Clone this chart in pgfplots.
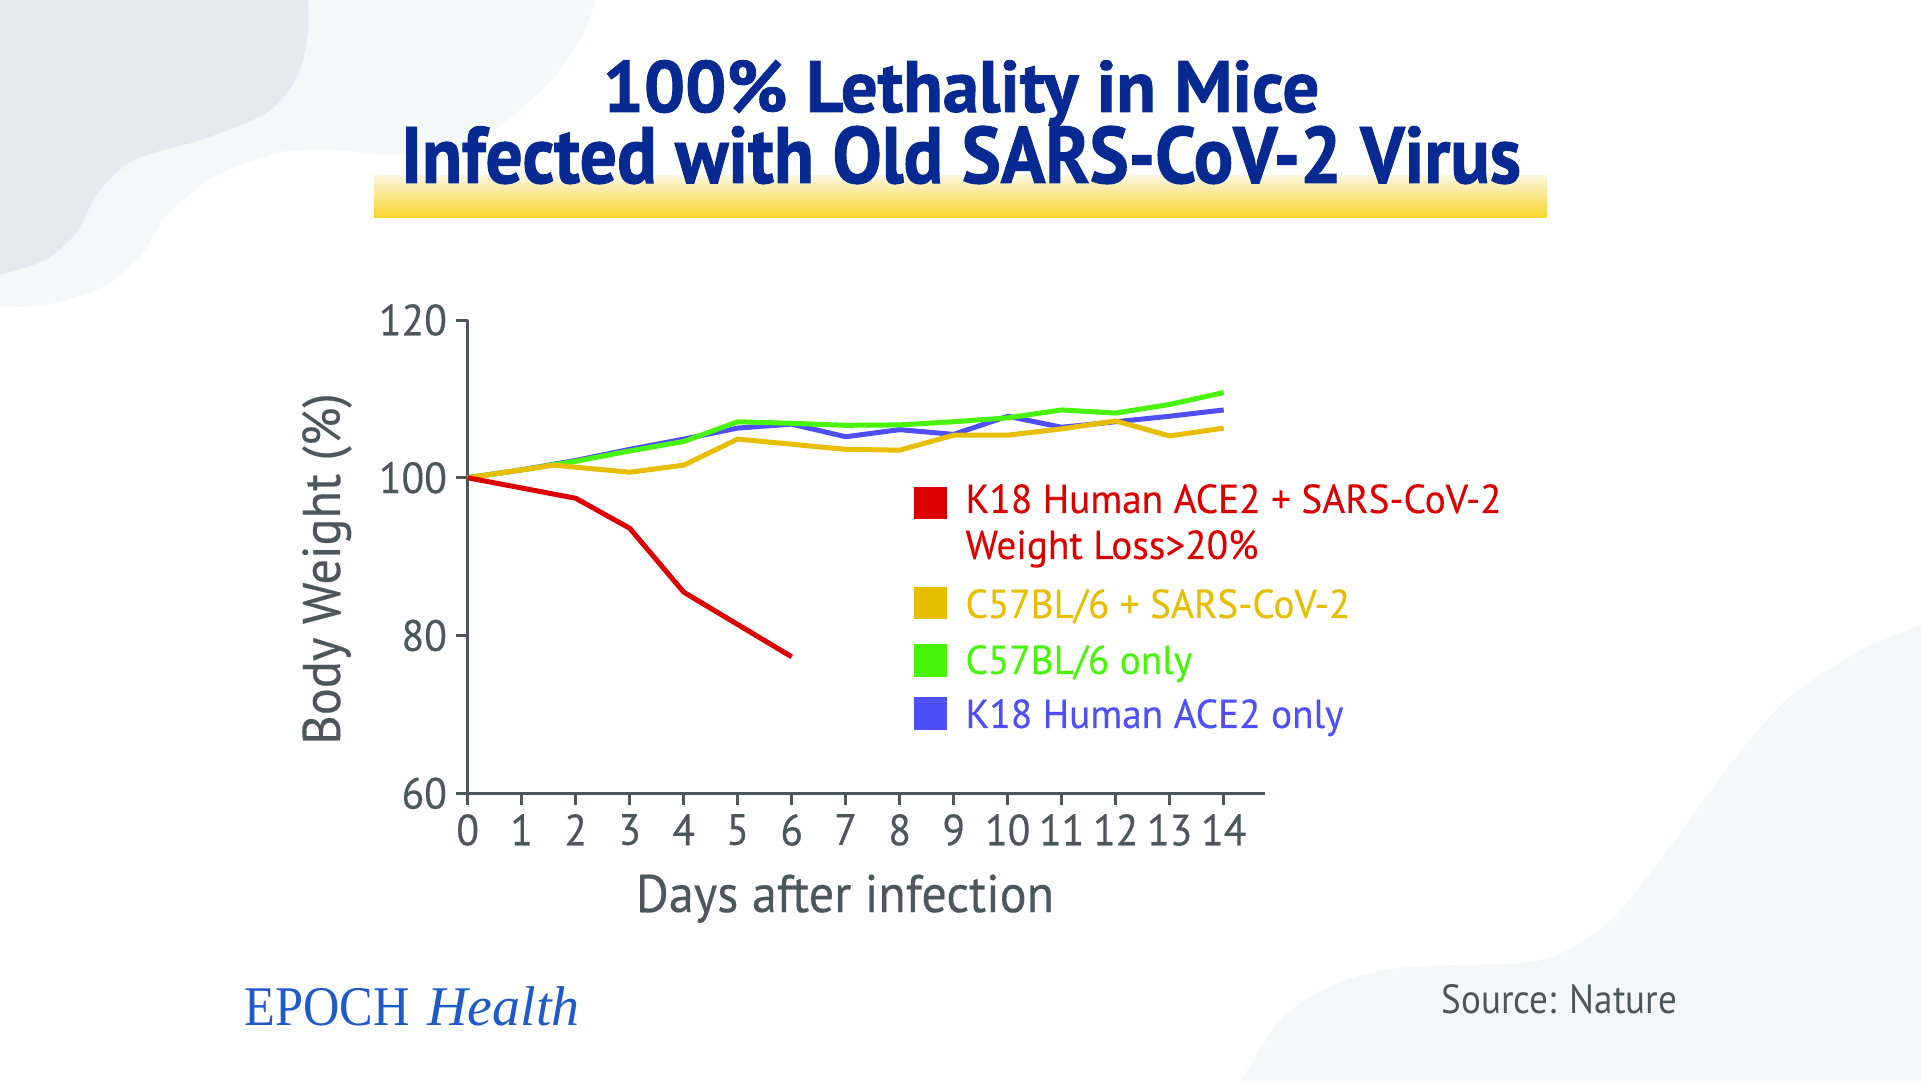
\documentclass[border=0pt]{standalone}
\usepackage{pgfplots}
\pgfplotsset{compat=1.18}
\usepackage{fontspec}
\setmainfont{PT Sans}
\newfontfamily\tkf{PT Sans}[FakeStretch=0.95, FakeBold=0.3]
\newfontfamily\lf{PT Sans}[FakeStretch=0.95, FakeBold=0.3]
\newfontfamily\lgf{PT Sans}[FakeStretch=0.97, FakeBold=0.2]
\newfontfamily\cf{PT Sans}[FakeStretch=0.91]
\newfontfamily\tfa{PT Sans}[FakeStretch=1.0, FakeBold=1.2]
\newfontfamily\tfb{PT Sans}[FakeStretch=0.92, FakeBold=1.2]
\newfontfamily\ef{Liberation Serif}[FakeStretch=0.9]
\newfontfamily\efi{Liberation Serif}
\definecolor{titleblue}{HTML}{062A92}
\definecolor{axisgray}{HTML}{4B575B}
\definecolor{bgdark}{HTML}{E3EBF0}
\definecolor{bglight}{HTML}{F5F8F9}
\definecolor{barpale}{HTML}{FCF6DC}
\definecolor{barmid}{HTML}{FAE482}
\definecolor{baryellow}{HTML}{F9D52A}
\definecolor{cred}{HTML}{DC0000}
\definecolor{cyellow}{HTML}{E8BE00}
\definecolor{cgreen}{HTML}{48F50A}
\definecolor{cblue}{HTML}{4F4FF7}
\definecolor{epochblue}{HTML}{1F5AC8}
\begin{document}
\begin{tikzpicture}[x=0.4pt,y=0.4pt]
\useasboundingbox (0,0) rectangle (1921,1081);
\fill[white] (0,0) rectangle (1921,1081);
% background shapes
\fill[bglight] (0,1081) -- plot[smooth] coordinates {(596,1081) (580,1041) (549,998) (504,958) (469,938) (393,926) (335,931) (277,928) (214,904) (165,864) (143,828) (103,794) (45,776) (0,774)} -- cycle;
\fill[bgdark] (0,1081) -- plot[smooth] coordinates {(308,1081) (308,1048) (299,1008) (281,981) (259,964) (201,941) (134,921) (98,888) (76,848) (45,821) (0,806)} -- cycle;
\fill[bglight] (1921,0) -- plot[smooth] coordinates {(1921,456) (1867,434) (1798,391) (1752,344) (1706,284) (1660,221) (1614,164) (1568,131) (1522,118) (1407,114) (1338,98) (1283,64) (1246,9) (1240,0)} -- cycle;
% title highlight bar
\shade[top color=barpale, middle color=barmid, bottom color=baryellow] (374,863) rectangle (1547,905);
% title
\node[anchor=base, inner sep=0, text=titleblue, font=\tfa\bfseries\fontsize{29.1}{35}\selectfont] at (961,969) {100\% Lethality in Mice};
\node[anchor=base, inner sep=0, text=titleblue, font=\tfb\bfseries\fontsize{32}{38}\selectfont] at (961,898) {Infected with Old SARS-CoV-2 Virus};

\begin{axis}[
  at={(187.08pt,115.08pt)}, anchor=south west,
  scale only axis, width=318.8pt, height=189.32pt,
  xmin=0, xmax=14.76, ymin=60, ymax=120,
  axis lines=left,
  axis line style={-, line width=1.2pt, color=axisgray},
  x axis line style={shorten <=-4pt},
  xtick={0,1,...,14}, ytick={60,80,100,120},
  tick style={axisgray, line width=1.2pt},
  tick align=outside, major tick length=4.8pt,
  ticklabel style={font=\tkf\fontsize{17.5}{20}\selectfont, text=axisgray},
  /pgf/number format/assume math mode=true,
  xlabel={Days after infection}, ylabel={Body Weight (\%)},
  every axis x label/.style={at={(axis description cs:0.4734,0)}, anchor=base, yshift=-47.5pt, font=\lf\fontsize{21.2}{25}\selectfont, text=axisgray},
  every axis y label/.style={at={(axis description cs:0,0.474)}, rotate=90, anchor=base, yshift=51.1pt, font=\lf\fontsize{21.2}{25}\selectfont, text=axisgray},
  clip=false,
]
\addplot[cblue, line width=2pt, line join=round] coordinates {
(0,100) (1,101) (2,102.2) (3,103.6) (4,104.9) (5,106.3) (6,106.8) (7,105.2) (8,106.1) (9,105.5) (10,107.8) (11,106.4) (12,107.1) (13,107.8) (14,108.6)};
\addplot[cgreen, line width=2pt, line join=round] coordinates {
(0,100) (1,101) (2,102.1) (3,103.4) (4,104.6) (5,107.1) (6,106.9) (7,106.65) (8,106.7) (9,107.1) (10,107.6) (11,108.6) (12,108.2) (13,109.3) (14,110.8)};
\addplot[cyellow, line width=2pt, line join=round] coordinates {
(0,100) (1.6,101.6) (3,100.7) (4,101.6) (5,104.9) (7,103.6) (8,103.5) (9,105.4) (10,105.4) (11,106.2) (12,107.2) (13,105.3) (14,106.3)};
\addplot[cred, line width=2pt, line join=round] coordinates {
(0,100) (2,97.4) (3,93.6) (4,85.5) (6,77.3)};
\end{axis}

% legend
\fill[cred] (914,562) rectangle (947,594);
\fill[cyellow] (914,462) rectangle (947,494);
\fill[cgreen] (914,404) rectangle (947,437);
\fill[cblue] (914,351) rectangle (947,384);
\begin{scope}[every node/.style={anchor=base west, inner sep=0, font=\lgf\fontsize{16.2}{19}\selectfont}]
\node[text=cred] at (965,568) {K18 Human ACE2 + SARS-CoV-2};
\node[text=cred] at (965,522) {Weight Loss>20\%};
\node[text=cyellow] at (965,463) {C57BL/6 + SARS-CoV-2};
\node[text=cgreen] at (965,407) {C57BL/6 only};
\node[text=cblue] at (965,353) {K18 Human ACE2 only};
\end{scope}

% footer
\node[anchor=base west, inner sep=0, text=epochblue, font=\ef\fontsize{22.4}{26}\selectfont] at (244,56) {EPOCH};
\node[anchor=base west, inner sep=0, text=epochblue, font=\efi\itshape\fontsize{22.4}{26}\selectfont] at (427,56) {Health};
\node[anchor=base west, inner sep=0, text=axisgray, font=\cf\fontsize{16.3}{19}\selectfont] at (1441,68) {Source: Nature};
\end{tikzpicture}
\end{document}
